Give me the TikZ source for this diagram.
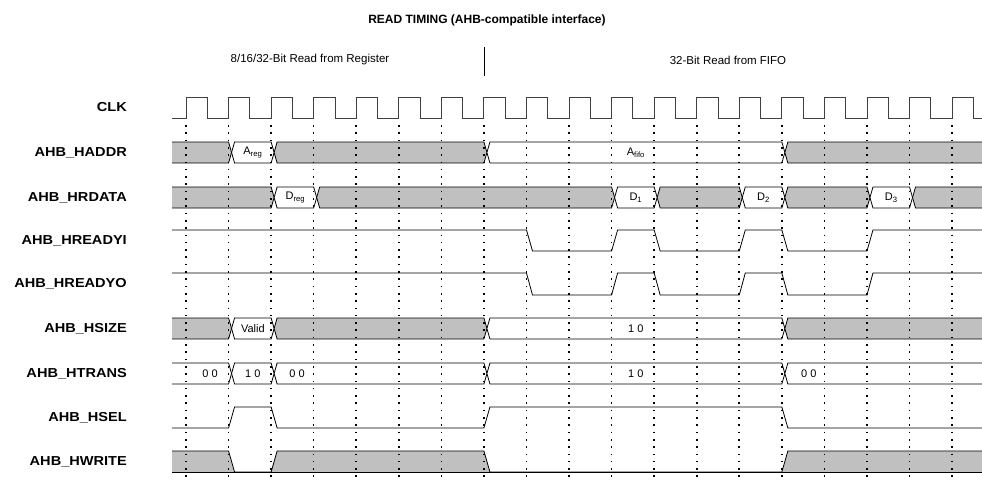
\documentclass[tikz,border=0pt]{standalone}
\usepackage{fontspec}
\setmainfont{Liberation Sans}
\newfontfamily\lblfont[FakeStretch=1.12]{Liberation Sans}
\usetikzlibrary{positioning}
\definecolor{busgray}{HTML}{C0C0C0}
\definecolor{clkln}{HTML}{404040}
\newcommand{\E}[1]{(186+42.56*(#1))}
\newcommand{\busrow}[2]{%
  \foreach \a/\b/\c in {#2}
    \draw[sig,fill=\c] ({\E{\a}+3},#1+10.5) -- ({\E{\a}+6},#1) -- ({\E{\b}},#1)
      -- ({\E{\b}+3},#1+10.5) -- ({\E{\b}},#1+21) -- ({\E{\a}+6},#1+21) -- cycle;}
\tikzset{
  sig/.style={draw=black,line width=0.8pt},
  clk/.style={draw=clkln,line width=0.9pt},
  grid/.style={draw=black,line width=1.6pt,dash pattern=on 1.6pt off 5.7pt},
  lbl/.style={anchor=east,inner sep=0pt,font=\lblfont\bfseries\fontsize{13}{15}\selectfont},
  val/.style={inner sep=0pt,font=\fontsize{11}{13}\selectfont},
  head/.style={inner sep=0pt,font=\fontsize{11.5}{14}\selectfont},
}
\begin{document}
\begin{tikzpicture}[x=1pt,y=-1pt]
\useasboundingbox (0,0) rectangle (982,484);
\node[head,font=\bfseries\fontsize{12}{14}\selectfont] (title) at (487,20) {READ TIMING (AHB-compatible interface)};
\node[head] (regrd) at (310,60) {8/16/32-Bit Read from Register};
\node[head] (fiford) at (728,60) {32-Bit Read from FIFO};
\draw[line width=0.8pt] (484,47) -- (484,76);

\node[lbl] (clk) at (127,107.5) {CLK};
\node[lbl] (haddr) at (127,152.5) {AHB\_HADDR};
\node[lbl] (hrdata) at (127,197.5) {AHB\_HRDATA};
\node[lbl] (hreadyi) at (127,240.5) {AHB\_HREADYI};
\node[lbl] (hreadyo) at (127,284) {AHB\_HREADYO};
\node[lbl] (hsize) at (127,328.5) {AHB\_HSIZE};
\node[lbl] (htrans) at (127,373.5) {AHB\_HTRANS};
\node[lbl] (hsel) at (127,417.5) {AHB\_HSEL};
\node[lbl] (hwrite) at (127,461.5) {AHB\_HWRITE};

\begin{scope}
\clip (172,80) rectangle (982,484);
\draw[clk] (172,118) \foreach \k in {0,...,18} { -- ({\E{\k}},118) -- ({\E{\k}},97)
  -- ({\E{\k}+21.28},97) -- ({\E{\k}+21.28},118) } -- (982,118);
\busrow{142}{-1/1/busgray,1/2/white,2/7/busgray,7/14/white,14/19/busgray}
\busrow{187}{-1/2/busgray,2/3/white,3/10/busgray,10/11/white,11/13/busgray,13/14/white,14/16/busgray,16/17/white,17/19/busgray}
\draw[sig] (172,230) \foreach \f/\r in {8/10,11/13,14/16} { -- ({\E{\f}},230) -- ({\E{\f}+6},251)
  -- ({\E{\r}},251) -- ({\E{\r}+6},230) } -- (982,230);
\draw[sig] (172,273) \foreach \f/\r in {8/10,11/13,14/16} { -- ({\E{\f}},273) -- ({\E{\f}+6},295)
  -- ({\E{\r}},295) -- ({\E{\r}+6},273) } -- (982,273);
\busrow{318}{-1/1/busgray,1/2/white,2/7/busgray,7/14/white,14/19/busgray}
\busrow{363}{-1/1/white,1/2/white,2/7/white,7/14/white,14/19/white}
\draw[sig] (172,428) \foreach \r/\f in {1/2,7/14} { -- ({\E{\r}},428) -- ({\E{\r}+6},407)
  -- ({\E{\f}},407) -- ({\E{\f}+6},428) } -- (982,428);
\fill[busgray] (172,472) -- (172,451) -- ({\E{1}},451) -- ({\E{1}+6},472) -- cycle;
\fill[busgray] ({\E{2}},472) -- ({\E{2}+6},451) -- ({\E{7}},451) -- ({\E{7}+6},472) -- cycle;
\fill[busgray] ({\E{14}},472) -- ({\E{14}+6},451) -- (982,451) -- (982,472) -- cycle;
\draw[sig] (172,451) -- ({\E{1}},451) -- ({\E{1}+6},472) -- ({\E{2}},472) -- ({\E{2}+6},451)
  -- ({\E{7}},451) -- ({\E{7}+6},472) -- ({\E{14}},472) -- ({\E{14}+6},451) -- (982,451);
\draw[sig] (172,472) -- (982,472);
\end{scope}

\foreach \k in {0,...,18}
  \draw[grid] ({\E{\k}},125) -- ({\E{\k}},481);

\node[val] (areg) at ({\E{1.5}+3},152.5) {A\textsubscript{reg}};
\node[val] (afifo) at ({\E{10.5}+3},152.5) {A\textsubscript{fifo}};
\node[val] (dreg) at ({\E{2.5}+3},197.5) {D\textsubscript{reg}};
\node[val] (d1) at ({\E{10.5}+3},197.5) {D\textsubscript{1}};
\node[val] (d2) at ({\E{13.5}+3},197.5) {D\textsubscript{2}};
\node[val] (d3) at ({\E{16.5}+3},197.5) {D\textsubscript{3}};
\node[val] (valid) at ({\E{1.5}+3},328.5) {Valid};
\node[val] (size10) at ({\E{10.5}+3},328.5) {1 0};
\node[val] (tr00a) at ({\E{0}+24},373.5) {0 0};
\node[val] (tr10a) at ({\E{1.5}+3},373.5) {1 0};
\node[val] (tr00b) at ({\E{2}+26},373.5) {0 0};
\node[val] (tr10b) at ({\E{10.5}+3},373.5) {1 0};
\node[val] (tr00c) at ({\E{14}+27},373.5) {0 0};
\end{tikzpicture}
\end{document}
